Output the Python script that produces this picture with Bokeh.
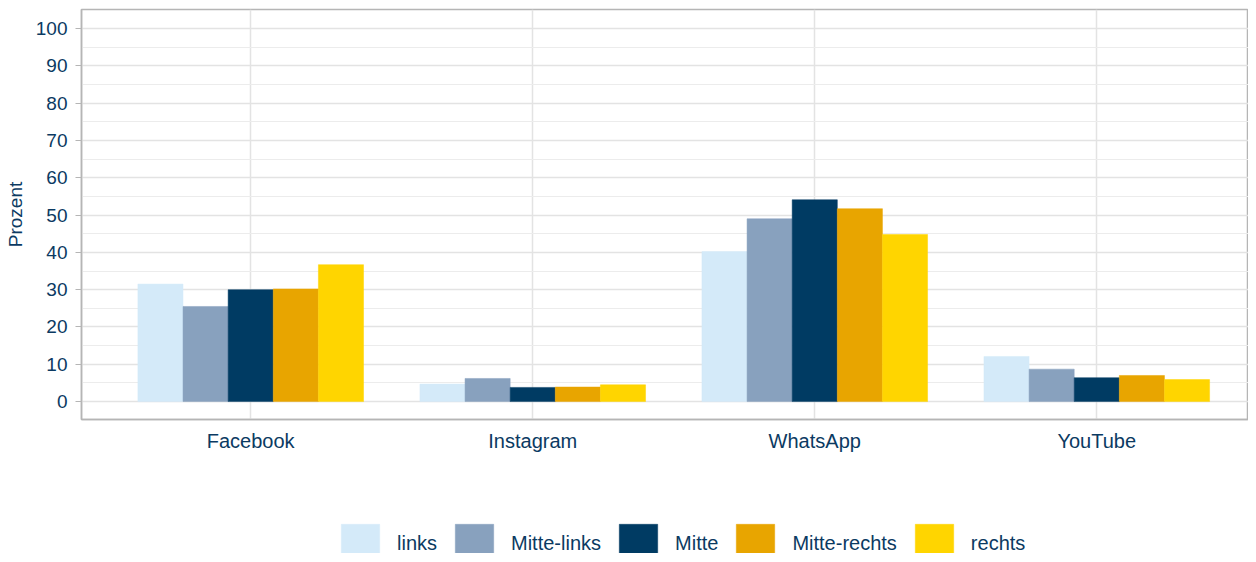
from bokeh.plotting import figure
from bokeh.layouts import column
from bokeh.models import Range1d, FixedTicker, Legend, LegendItem, ColumnDataSource
from bokeh.embed import file_html
from bokeh.resources import INLINE

platforms = ["Facebook", "Instagram", "WhatsApp", "YouTube"]
groups = ["links", "Mitte-links", "Mitte", "Mitte-rechts", "rechts"]
links = [31.5, 4.7, 40.2, 12.1]
mitte_links = [25.5, 6.2, 49.0, 8.7]
mitte = [30.0, 3.8, 54.1, 6.4]
mitte_rechts = [30.2, 3.9, 51.7, 7.0]
rechts = [36.7, 4.5, 44.8, 5.9]
series = [links, mitte_links, mitte, mitte_rechts, rechts]
colors = ["#d4eaf9", "#88a1be", "#003b63", "#e8a500", "#ffd500"]

FONT = "Liberation Sans"
TXT = "#0b3a62"

p = figure(frame_width=1167, frame_height=410, output_backend="svg", toolbar_location=None,
           x_range=Range1d(-0.6, 3.538), y_range=Range1d(-4.8, 105.1),
           min_border_left=81, min_border_top=9, min_border_right=0, min_border_bottom=60)
p.outline_line_color = "#b5b5b5"
p.outline_line_width = 1.5
p.background_fill_color = "white"
p.border_fill_color = "white"

bw = 0.16
sources = []
for k, (name, vals, c) in enumerate(zip(groups, series, colors)):
    off = (k - 2) * bw
    src = ColumnDataSource(dict(x=[i + off for i in range(len(platforms))], top=vals))
    sources.append(src)
    p.vbar(x="x", top="top", bottom=0, width=bw, source=src,
           fill_color=c, line_color=c, line_width=0.5)

# axes
p.xaxis.ticker = FixedTicker(ticks=list(range(len(platforms))))
p.xaxis.major_label_overrides = {i: n for i, n in enumerate(platforms)}
p.yaxis.ticker = FixedTicker(ticks=list(range(0, 101, 10)), minor_ticks=list(range(0, 101, 5)))
for ax in (p.xaxis[0], p.yaxis[0]):
    ax.axis_line_color = "#b5b5b5"
    ax.axis_line_width = 1.5
    ax.major_label_text_font = FONT
    ax.major_label_text_color = TXT
    ax.minor_tick_line_color = None
p.xaxis.major_label_text_font_size = "20px"
p.yaxis.major_label_text_font_size = "19px"
p.xaxis.major_tick_line_color = None
p.xaxis.major_label_standoff = 4
p.yaxis.major_tick_line_color = "#b5b5b5"
p.yaxis.major_tick_out = 6
p.yaxis.major_tick_in = 0
p.yaxis.major_label_standoff = 8
p.yaxis.axis_label = "Prozent"
p.yaxis.axis_label_text_font = FONT
p.yaxis.axis_label_text_font_size = "19px"
p.yaxis.axis_label_text_font_style = "normal"
p.yaxis.axis_label_text_color = TXT
p.yaxis.axis_label_standoff = 7

p.xgrid.grid_line_color = "#e3e3e3"
p.xgrid.grid_line_width = 1.5
p.ygrid.grid_line_color = "#e3e3e3"
p.ygrid.grid_line_width = 1.5
p.ygrid.minor_grid_line_color = "#ececec"
p.ygrid.minor_grid_line_width = 1

# legend strip (hidden copies of the bar renderers feed the legend swatches)
lg = figure(frame_width=1248, frame_height=74, output_backend="svg", toolbar_location=None,
            x_range=Range1d(-0.6, 3.538), y_range=Range1d(-4.8, 105.1),
            min_border=0, x_axis_type=None, y_axis_type=None)
lg.outline_line_color = None
lg.xgrid.visible = False
lg.ygrid.visible = False
items = []
for name, src, c in zip(groups, sources, colors):
    r = lg.vbar(x="x", top="top", bottom=0, width=bw, source=src,
                fill_color=c, line_color=c, line_width=0.5, visible=False)
    items.append(LegendItem(label=name, renderers=[r]))
legend = Legend(items=items, orientation="horizontal", location=(336, -14),
                glyph_width=48, glyph_height=48, label_standoff=13, spacing=13,
                label_text_font=FONT, label_text_font_size="20px",
                label_text_color=TXT, border_line_color=None,
                background_fill_alpha=0, margin=0, padding=0,
                inactive_fill_alpha=0, click_policy="none")
legend.label_height = 48
lg.add_layout(legend, "center")

layout = column(p, lg, spacing=0)
open("out.html", "w").write(file_html(layout, INLINE))
